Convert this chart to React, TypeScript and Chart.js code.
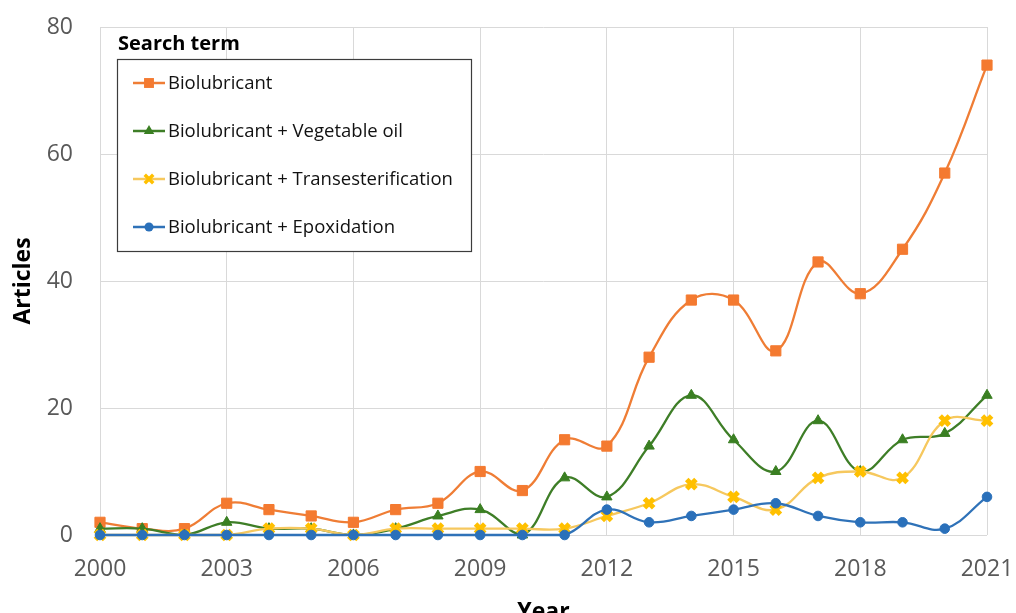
import React, { useEffect, useRef } from 'react';
import { Chart, registerables } from 'chart.js';

Chart.register(...registerables);

const years = [2000, 2001, 2002, 2003, 2004, 2005, 2006, 2007, 2008, 2009, 2010, 2011, 2012, 2013, 2014, 2015, 2016, 2017, 2018, 2019, 2020, 2021];
const seriesNames = [
  'Biolubricant',
  'Biolubricant + Vegetable oil',
  'Biolubricant + Transesterification',
  'Biolubricant + Epoxidation',
];
const biolubricant = [2, 1, 1, 5, 4, 3, 2, 4, 5, 10, 7, 15, 14, 28, 37, 37, 29, 43, 38, 45, 57, 74];
const vegetableOil = [1, 1, 0, 2, 1, 1, 0, 1, 3, 4, 0, 9, 6, 14, 22, 15, 10, 18, 10, 15, 16, 22];
const transesterification = [0, 0, 0, 0, 1, 1, 0, 1, 1, 1, 1, 1, 3, 5, 8, 6, 4, 9, 10, 9, 18, 18];
const epoxidation = [0, 0, 0, 0, 0, 0, 0, 0, 0, 0, 0, 0, 4, 2, 3, 4, 5, 3, 2, 2, 1, 6];

const xAxisTitle = 'Year';
const yAxisTitle = 'Articles';
const legendTitle = 'Search term';

const FONT = "'Open Sans', sans-serif";

type SeriesStyle = { line: string; marker: string; shape: string };
const styles: SeriesStyle[] = [
  { line: '#EF7D35', marker: '#F47A30', shape: 'rect' },
  { line: '#3E7E27', marker: '#3A7F22', shape: 'triangle' },
  { line: '#F6C85E', marker: '#FFC000', shape: 'crossRot' },
  { line: '#2F72B8', marker: '#2A70BA', shape: 'circle' },
];

function drawMarker(ctx: CanvasRenderingContext2D, shape: string, x: number, y: number, r: number, color: string) {
  ctx.save();
  ctx.fillStyle = color;
  ctx.strokeStyle = color;
  ctx.beginPath();
  if (shape === 'rect') {
    const s = r * Math.SQRT1_2;
    ctx.rect(x - s, y - s, 2 * s, 2 * s);
    ctx.fill();
  } else if (shape === 'triangle') {
    ctx.moveTo(x, y - r);
    ctx.lineTo(x + r * 0.866, y + r * 0.5);
    ctx.lineTo(x - r * 0.866, y + r * 0.5);
    ctx.closePath();
    ctx.fill();
  } else if (shape === 'crossRot') {
    const s = r * Math.SQRT1_2;
    ctx.lineWidth = 3.5;
    ctx.moveTo(x - s, y - s);
    ctx.lineTo(x + s, y + s);
    ctx.moveTo(x - s, y + s);
    ctx.lineTo(x + s, y - s);
    ctx.stroke();
  } else {
    ctx.arc(x, y, r, 0, Math.PI * 2);
    ctx.fill();
  }
  ctx.restore();
}

const boxLegend = {
  id: 'boxLegend',
  afterDraw(chart: any) {
    const ctx: CanvasRenderingContext2D = chart.ctx;
    const bx = 117.5;
    const by = 59.5;
    const bw = 354;
    const bh = 192;
    ctx.save();
    ctx.fillStyle = '#ffffff';
    ctx.fillRect(bx, by, bw, bh);
    ctx.strokeStyle = '#3c3c3c';
    ctx.lineWidth = 1.2;
    ctx.strokeRect(bx, by, bw, bh);

    ctx.fillStyle = '#000000';
    ctx.font = `bold 20px ${FONT}`;
    ctx.textAlign = 'left';
    ctx.textBaseline = 'middle';
    ctx.fillText(legendTitle, 118, 44);

    const legendSizes = [7, 6, 6, 4.5];
    chart.data.datasets.forEach((ds: any, i: number) => {
      const st = styles[i];
      const y = 83 + i * 48;
      ctx.strokeStyle = st.line;
      ctx.lineWidth = 2.5;
      ctx.beginPath();
      ctx.moveTo(133, y);
      ctx.lineTo(165, y);
      ctx.stroke();
      drawMarker(ctx, st.shape, 149, y, legendSizes[i], st.marker);
      ctx.fillStyle = '#111111';
      ctx.font = `18.5px ${FONT}`;
      ctx.textBaseline = 'middle';
      ctx.fillText(ds.label, 168, y + 1);
    });
    ctx.restore();
  },
};

export default function App() {
  const canvasRef = useRef<HTMLCanvasElement | null>(null);

  useEffect(() => {
    document.body.style.margin = '0';
    const canvas = canvasRef.current;
    if (!canvas) return;

    const seriesValues = [biolubricant, vegetableOil, transesterification, epoxidation];
    const radii = [7.2, 6, 6.5, 4.8];

    const chart = new Chart(canvas, {
      type: 'line',
      data: {
        datasets: seriesValues.map((vals, i) => ({
          label: seriesNames[i],
          data: years.map((yr, j) => ({ x: yr, y: vals[j] })),
          borderColor: styles[i].line,
          backgroundColor: styles[i].marker,
          pointBackgroundColor: styles[i].marker,
          pointBorderColor: styles[i].marker,
          pointStyle: styles[i].shape as any,
          pointRadius: radii[i],
          pointBorderWidth: styles[i].shape === 'crossRot' ? 5 : 1,
          pointHoverRadius: radii[i],
          borderWidth: 2.3,
          tension: 0.4,
          fill: false,
          clip: false as any,
          order: 4 - i,
        })),
      },
      options: {
        responsive: false,
        animation: false,
        events: [],
        layout: { padding: { top: 27, right: 29, left: 0, bottom: 0 } },
        plugins: {
          legend: { display: false },
          tooltip: { enabled: false },
          title: { display: false },
        },
        scales: {
          x: {
            type: 'linear',
            min: 2000,
            max: 2021,
            afterFit(scale: any) {
              scale.height = 78;
              scale.paddingLeft = 0;
              scale.paddingRight = 0;
            },
            ticks: {
              stepSize: 3,
              padding: 21,
              color: '#595959',
              font: { family: FONT, size: 23 },
              maxRotation: 0,
              callback: (v: any) => String(v),
            },
            grid: { color: '#d9d9d9', lineWidth: 1, drawTicks: false },
            border: { display: false },
            title: {
              display: true,
              text: xAxisTitle,
              color: '#000000',
              font: { family: FONT, size: 23, weight: 'bold' },
              padding: { top: 0, bottom: -13 },
            },
          },
          y: {
            type: 'linear',
            min: 0,
            max: 80,
            afterFit(scale: any) {
              scale.width = 100;
              scale.paddingTop = 0;
              scale.paddingBottom = 0;
            },
            ticks: {
              stepSize: 20,
              padding: 27,
              color: '#595959',
              font: { family: FONT, size: 23 },
            },
            grid: { color: '#d9d9d9', lineWidth: 1, drawTicks: false },
            border: { display: false },
            title: {
              display: true,
              text: yAxisTitle,
              color: '#000000',
              font: { family: FONT, size: 23, weight: 'bold' },
              padding: { top: 10, bottom: 0 },
            },
          },
        },
      },
      plugins: [boxLegend],
    });

    return () => {
      chart.destroy();
    };
  }, []);

  return (
    <div style={{ position: 'fixed', left: 0, top: 0, width: 1016, height: 613, background: '#ffffff' }}>
      <canvas ref={canvasRef} width={1016} height={613} style={{ display: 'block' }} />
    </div>
  );
}
